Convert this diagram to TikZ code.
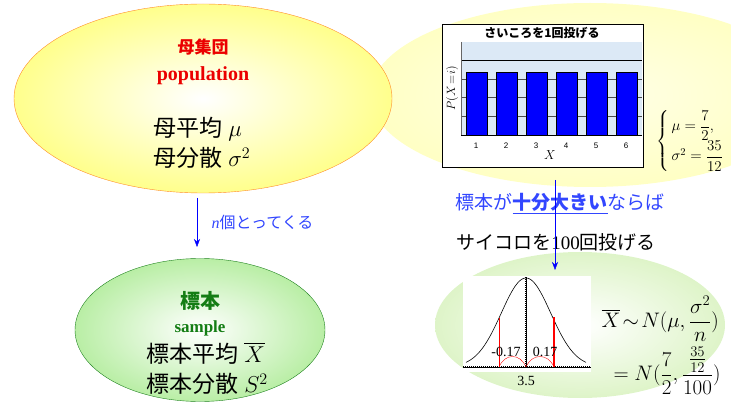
\RequirePackage{fix-cm}
\documentclass[tikz,border=0pt]{standalone}
\usepackage{amsmath}
\usepackage{fontspec}
\setmainfont{Liberation Serif}
\newfontfamily\jp{Noto Sans CJK JP}
\newfontfamily\axfont{Liberation Sans}
\usetikzlibrary{shapes.geometric, arrows.meta}
\definecolor{popedge}{RGB}{255,140,40}
\definecolor{popout}{RGB}{255,255,140}
\definecolor{smpedge}{RGB}{30,130,30}
\definecolor{smpout}{RGB}{185,238,165}
\definecolor{diceout}{RGB}{255,255,196}
\definecolor{dicein}{RGB}{255,255,232}
\definecolor{cltout}{RGB}{222,244,200}
\definecolor{popred}{RGB}{235,0,0}
\definecolor{smpgreen}{RGB}{20,125,20}
\definecolor{txtblue}{RGB}{50,70,255}
\definecolor{plotbg}{RGB}{220,233,246}
\tikzset{
  oval/.style={ellipse, inner sep=0pt},
  jpbig/.style={font=\fontsize{23}{30}\selectfont, align=left, anchor=west},
  tick/.style={font=\axfont\fontsize{8}{8}\selectfont},
  flow/.style={-{Stealth[length=8pt, width=6pt]}, blue}
}
\begin{document}
\begin{tikzpicture}[x=1pt, y=-1pt]
\useasboundingbox (0,0) rectangle (731,414);
\node[oval, minimum width=440, minimum height=184, inner color=dicein, outer color=diceout] (dice) at (590,95) {};
\node[oval, minimum width=290, minimum height=146, inner color=white, outer color=cltout] (clt) at (580,325) {};
\node[oval, draw=popedge, minimum width=378, minimum height=189, inner color=white, outer color=popout] (pop) at (203,98.5) {};
\node[oval, draw=smpedge, minimum width=250, minimum height=143, inner color=white, outer color=smpout] (smp) at (200,330) {};
\node[font=\jp\bfseries\fontsize{17}{17}\selectfont, text=popred] (popjp) at (203,47) {母集団};
\node[font=\bfseries\fontsize{20}{20}\selectfont, text=popred] (popen) at (203,76) {population};
\node[jpbig] (popstat) at (150,143) {{\jp 母平均}\ $\mu$\\{\jp 母分散}\ $\sigma^2$};
\node[font=\jp\bfseries\fontsize{20}{20}\selectfont, text=smpgreen] (smpjp) at (200,301) {標本};
\node[font=\bfseries\fontsize{17}{17}\selectfont, text=smpgreen] (smpen) at (200,328) {sample};
\node[jpbig] (smpstat) at (143,368) {{\jp 標本平均}\ $\overline{X}$\\{\jp 標本分散}\ $S^2$};
\coordinate (a1) at (197,198);
\coordinate (a2) at (197,247);
\draw[flow] (a1) -- (a2);
\node[font=\fontsize{16}{16}\selectfont, text=txtblue, anchor=west] (take) at (208,222) {\textit{n}{\jp 個とってくる}};
\node[draw, line width=1pt, fill=white, minimum width=201, minimum height=143] (chart) at (542.5,96.5) {};
\node[font=\jp\bfseries\fontsize{12}{12}\selectfont] (title) at (542,33) {さいころを1回投げる};
\fill[plotbg] (461,42) rectangle (642,135);
\foreach \y in {79,97,116} {\draw[black!70] (461,\y) -- (642,\y);}
\draw[thick] (461,60) -- (642,60);
\draw[thick] (461,135) -- (642,135);
\draw[black!60] (461,42) -- (461,135);
\foreach \i in {1,...,6} {\draw[fill=blue, line width=0.8pt] ({436+30*\i},72) rectangle ++(21,63); \node[tick] at ({446+30*\i},146) {\i};}
\node[font=\fontsize{13}{13}\selectfont] (xlab) at (550,155) {$X$};
\node[font=\fontsize{12}{12}\selectfont, rotate=90] (ylab) at (452,88) {$P(X\!=\!i)$};
\node[font=\fontsize{15}{15}\selectfont, anchor=west, inner sep=0pt] (param) at (656,141) {$\left\{\,\begin{array}{@{}l@{}}\mu=\dfrac{7}{2},\\[1pt] \sigma^2=\dfrac{35}{12}\end{array}\right.$};
\node[font=\jp\fontsize{19}{19}\selectfont, text=txtblue] (large) at (560,204) {標本が\underline{\bfseries 十分大きい}ならば};
\node[font=\fontsize{19}{19}\selectfont] (throw) at (556,242) {{\jp サイコロを}100{\jp 回投げる}};
\coordinate (s1) at (555,180);
\coordinate (s2) at (555,270);
\draw[flow] (s1) -- (s2);
\fill[white] (463,276) rectangle (591,372);
\draw[domain=466:586, samples=80, semithick] plot (\x, {367-89*exp(-(\x-526)^2/(2*24.7^2))});
\draw (463,367) -- (591,367);
\draw[dash pattern=on 0.5pt off 1.5pt, line width=2.5pt] (463,367) -- (591,367);
\draw (526,277) -- (526,367);
\draw[dash pattern=on 0.5pt off 1.5pt, line width=2pt] (526,277) -- (526,367);
\draw[red, thick] (499,318) -- (499,367);
\draw[red, line width=2pt] (554,317) -- (554,367);
\draw[red] (499,367) .. controls (505,353) and (520,353) .. (526,367);
\draw[red] (526,367) .. controls (532,353) and (548,353) .. (554,367);
\node[font=\fontsize{14}{14}\selectfont] (lo) at (506,352) {-0.17};
\node[font=\fontsize{14}{14}\selectfont] (hi) at (545,352) {0.17};
\node[font=\fontsize{14}{14}\selectfont] (mid) at (526,381) {3.5};
\node[font=\fontsize{21}{21}\selectfont, anchor=west] (dist) at (598,319) {$\overline{X}\!\sim\! N(\mu,\dfrac{\sigma^2}{n})$};
\node[font=\fontsize{21}{21}\selectfont, anchor=west] (distv) at (610,371) {$= N(\dfrac{7}{2},\dfrac{\frac{35}{12}}{100})$};
\end{tikzpicture}
\end{document}
